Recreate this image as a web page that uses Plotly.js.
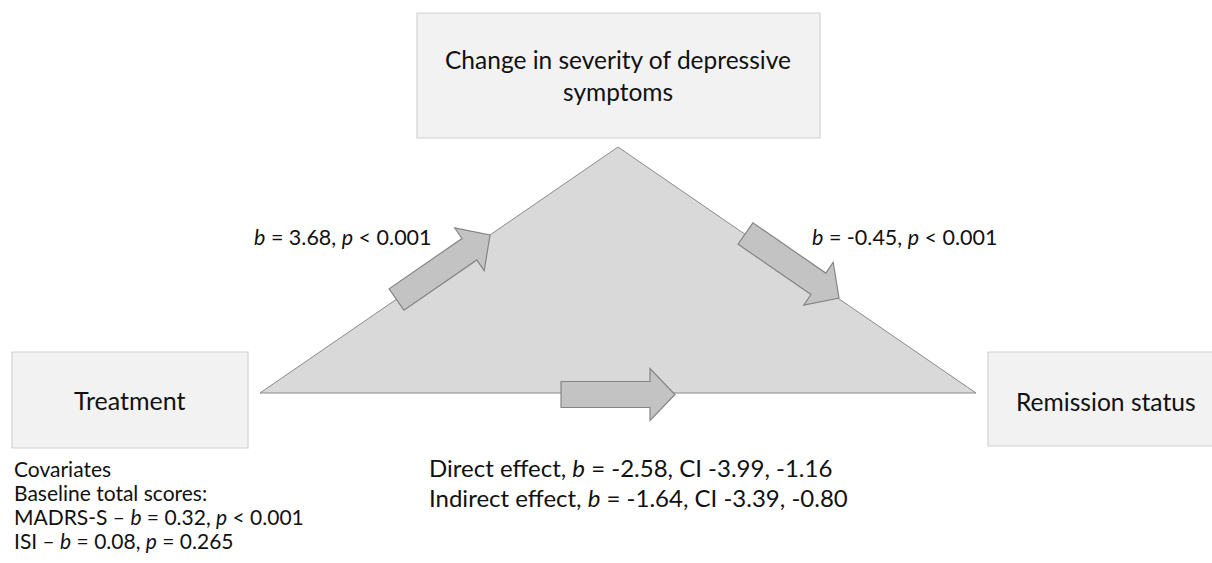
<!DOCTYPE html>
<html>
<head>
<meta charset="utf-8">
<script src="https://cdn.plot.ly/plotly-3.0.1.min.js"></script>
<style>html,body{margin:0;padding:0;background:#fff;}#chart{width:1212px;height:563px;}</style>
</head>
<body>
<div id="chart"></div>
<script>
// ---- data ----
const nodeLabels = ["Change in severity of depressive<br>symptoms", "Treatment", "Remission status"];
const pathNames = ["a", "b"];
const pathB = ["3.68", "-0.45"];
const pathP = ["< 0.001", "< 0.001"];
const effectNames = ["Direct effect", "Indirect effect"];
const effectB = ["-2.58", "-1.64"];
const effectCI = ["-3.99, -1.16", "-3.39, -0.80"];
const covariateHeader = ["Covariates", "Baseline total scores:"];
const covariateNames = ["MADRS-S", "ISI"];
const covariateB = ["0.32", "0.08"];
const covariateP = ["< 0.001", "= 0.265"];

// ---- geometry (layout, px-like units on 1:1 axes) ----
const G = {
  boxes: [
    {x0: 417, x1: 820, y0: 13, y1: 138, lines: [[618, 59], [618, 91]], size: 24.5},
    {x0: 12, x1: 248, y0: 352, y1: 448, lines: [[130, 400]], size: 25},
    {x0: 988, x1: 1216, y0: 352, y1: 446, lines: [[1106, 401]], size: 24.6}
  ],
  tri: [[260, 393], [618, 147], [976, 393]],
  arrows: [
    {tail: [396.5, 299.5], tip: [490, 235]},
    {tail: [745.5, 233.5], tip: [839, 298]},
    {tail: [561, 394.5], tip: [675, 394.5]}
  ],
  shaftW: 26, headW: 52, headL: 25,
  pathLabelPos: [[252, 237], [810, 237]],
  covPos: {x: 12, y: [468, 492, 516, 540]},
  effPos: {x: 427, y: [467, 497]}
};

function arrowPath(a) {
  const [tx, ty] = a.tail, [px, py] = a.tip;
  const dx = px - tx, dy = py - ty, L = Math.hypot(dx, dy);
  const ux = dx / L, uy = dy / L, nx = -uy, ny = ux;
  const bx = px - ux * G.headL, by = py - uy * G.headL;
  const s = G.shaftW / 2, h = G.headW / 2;
  const pts = [
    [tx + nx * s, ty + ny * s], [bx + nx * s, by + ny * s], [bx + nx * h, by + ny * h],
    [px, py], [bx - nx * h, by - ny * h], [bx - nx * s, by - ny * s], [tx - nx * s, ty - ny * s]
  ];
  return "M" + pts.map(p => p[0].toFixed(1) + "," + p[1].toFixed(1)).join(" L") + " Z";
}

const FONT = "Lato, 'Open Sans', sans-serif";
const shapes = [];
G.boxes.forEach(b => shapes.push({type: "rect", xref: "x", yref: "y", x0: b.x0, x1: b.x1, y0: b.y0, y1: b.y1,
  fillcolor: "#f2f2f2", line: {color: "#d2d2d2", width: 1.2}, layer: "below"}));
shapes.push({type: "path", xref: "x", yref: "y",
  path: "M" + G.tri.map(p => p.join(",")).join(" L") + " Z",
  fillcolor: "#d9d9d9", line: {color: "#8a8a8a", width: 1}, layer: "below"});
G.arrows.forEach(a => shapes.push({type: "path", xref: "x", yref: "y", path: arrowPath(a),
  fillcolor: "#c3c3c3", line: {color: "#858585", width: 1.2}}));

const annotations = [];
function txt(x, y, text, size, anchor) {
  annotations.push({x: x, y: y, xref: "x", yref: "y", text: text, showarrow: false,
    xanchor: anchor || "left", yanchor: "middle", font: {family: FONT, size: size, color: "#111"}});
}
nodeLabels.forEach((lab, i) => {
  const parts = lab.split("<br>");
  parts.forEach((p, j) => txt(G.boxes[i].lines[j][0], G.boxes[i].lines[j][1], p, G.boxes[i].size, "center"));
});
pathB.forEach((b, i) => txt(G.pathLabelPos[i][0], G.pathLabelPos[i][1],
  "<i>b</i> = " + b + ", <i>p</i> " + pathP[i], 21.5));
covariateHeader.forEach((c, i) => txt(G.covPos.x, G.covPos.y[i], c, 21));
covariateNames.forEach((c, i) => txt(G.covPos.x, G.covPos.y[i + 2],
  c + " – <i>b</i> = " + covariateB[i] + ", <i>p</i> " + covariateP[i], 21));
effectNames.forEach((e, i) => txt(G.effPos.x, G.effPos.y[i],
  e + ", <i>b</i> = " + effectB[i] + ", CI " + effectCI[i], 24));

const layout = {
  width: 1212, height: 563, margin: {l: 0, r: 0, t: 0, b: 0},
  paper_bgcolor: "#fff", plot_bgcolor: "#fff", showlegend: false,
  xaxis: {range: [0, 1212], visible: false, fixedrange: true},
  yaxis: {range: [563, 0], visible: false, fixedrange: true},
  shapes: shapes, annotations: annotations
};
Plotly.newPlot("chart", [{x: [], y: [], type: "scatter", mode: "markers", hoverinfo: "skip"}], layout,
  {staticPlot: true, displayModeBar: false});
</script>
</body>
</html>
